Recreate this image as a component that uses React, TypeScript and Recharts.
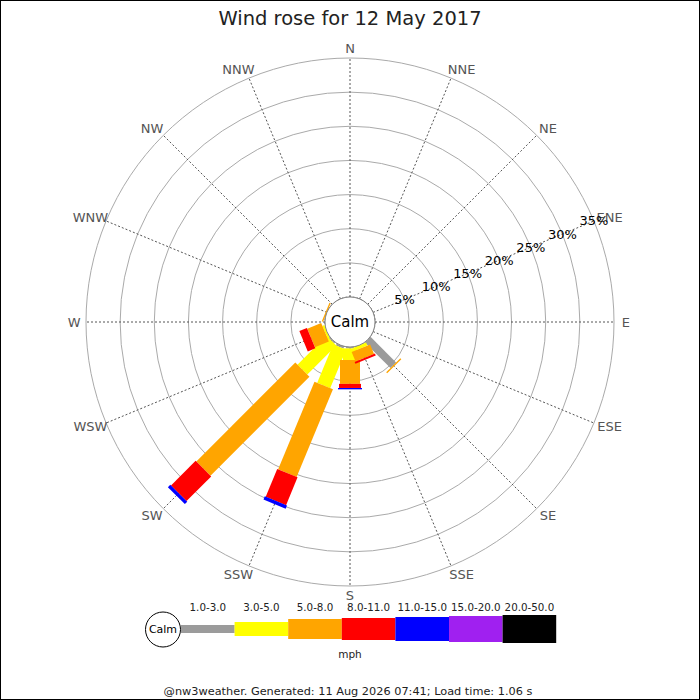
import React from 'react';
import { RadarChart, Radar, PolarGrid, PolarAngleAxis, PolarRadiusAxis } from 'recharts';

const DIRECTIONS = ['N', 'NNE', 'NE', 'ENE', 'E', 'ESE', 'SE', 'SSE', 'S', 'SSW', 'SW', 'WSW', 'W', 'WNW', 'NW', 'NNW'];
const SPEED_CLASSES = ['1.0-3.0', '3.0-5.0', '5.0-8.0', '8.0-11.0', '11.0-15.0', '15.0-20.0', '20.0-50.0'];
const CLASS_KEYS = ['c1', 'c2', 'c3', 'c4', 'c5', 'c6', 'c7'];
const CLASS_COLORS = ['#9b9b9b', '#ffff00', '#ffa500', '#ff0000', '#0000ff', '#a020f0', '#000000'];
const CLASS_WIDTHS = [8, 14, 20, 22, 24, 26, 28];

// Percent of time per direction (N .. NNW) for each speed class (mph)
const PCT_1_3 = [0, 0, 0, 0, 0, 0, 5.3, 0, 0.2, 0.3, 0.2, 0, 0, 0, 0, 0];
const PCT_3_5 = [0, 0, 0, 0, 0, 0, 0, 0.5, 1.7, 6.1, 6.0, 0.3, 0, 0, 0, 0];
const PCT_5_8 = [0, 0, 0, 0, 0, 0, 0.2, 1.5, 3.5, 13.9, 20.5, 2.2, 0, 0.2, 0, 0];
const PCT_8_11 = [0, 0, 0, 0, 0, 0, 0, 0.3, 0.6, 4.4, 5.1, 1.2, 0, 0, 0, 0];
const PCT_11_15 = [0, 0, 0, 0, 0, 0, 0, 0, 0.2, 0.5, 0.5, 0, 0, 0, 0, 0];
const PCT_15_20 = [0, 0, 0, 0, 0, 0, 0, 0, 0, 0, 0, 0, 0, 0, 0, 0];
const PCT_20_50 = [0, 0, 0, 0, 0, 0, 0, 0, 0, 0, 0, 0, 0, 0, 0, 0];
const SERIES = [PCT_1_3, PCT_3_5, PCT_5_8, PCT_8_11, PCT_11_15, PCT_15_20, PCT_20_50];

const RADIUS_TICKS = [0, 5, 10, 15, 20, 25, 30, 35];
const TITLE = 'Wind rose for 12 May 2017';
const UNIT = 'mph';
const CALM = 'Calm';
const FOOTER = '@nw3weather. Generated: 11 Aug 2026 07:41; Load time: 1.06 s';

const FONT = 'DejaVu Sans';
const CX = 350;
const CY = 322;
const INNER_R = 25;
const OUTER_R = 264;

// build range table [lower, upper] per class
const data = DIRECTIONS.map((dir, i) => {
  const row: any = { dir };
  let acc = 0;
  SERIES.forEach((s, k) => {
    const lo = acc;
    acc += s[i];
    row[CLASS_KEYS[k]] = [lo, acc];
  });
  return row;
});

const makeShape = (k: number) => (props: any) => {
  const pts: any[] = props.points || [];
  const w = CLASS_WIDTHS[k];
  return (
    <g>
      {pts.map((p: any, i: number) => {
        const v = p.value;
        if (!Array.isArray(v) || !(v[1] - v[0] > 0)) return null;
        const r1 = p.radius;
        const kScale = (r1 - INNER_R) / v[1];
        const r0 = INNER_R + kScale * v[0];
        const a = (p.angle * Math.PI) / 180;
        const ux = Math.cos(a);
        const uy = -Math.sin(a);
        const nx = Math.sin(a);
        const ny = Math.cos(a);
        const h = w / 2;
        const c = [
          [p.cx + ux * r0 + nx * h, p.cy + uy * r0 + ny * h],
          [p.cx + ux * r1 + nx * h, p.cy + uy * r1 + ny * h],
          [p.cx + ux * r1 - nx * h, p.cy + uy * r1 - ny * h],
          [p.cx + ux * r0 - nx * h, p.cy + uy * r0 - ny * h],
        ];
        return (
          <polygon
            key={i}
            points={c.map((q) => `${q[0]},${q[1]}`).join(' ')}
            fill={CLASS_COLORS[k]}
            stroke="none"
          />
        );
      })}
    </g>
  );
};

const AngleTick = (props: any) => {
  const { x, y, payload } = props;
  const label = String(payload.value);
  const a = (payload.coordinate * Math.PI) / 180;
  const w = label.length * 9.2;
  const cs = Math.cos(a);
  const shift = Math.abs(cs) > 1e-6 ? Math.sign(cs) * (w / 4) : 0;
  return (
    <text
      x={x + shift}
      y={y}
      textAnchor="middle"
      dominantBaseline="central"
      fill="#555"
      fontSize={13}
      fontFamily={FONT}
    >
      {label}
    </text>
  );
};

const RadiusTick = (props: any) => {
  const { x, y, payload } = props;
  if (!payload || payload.value === 0) return null;
  return (
    <text x={x} y={y} textAnchor="middle" dominantBaseline="central" fill="#000" fontSize={13} fontFamily={FONT}>
      {`${payload.value}%`}
    </text>
  );
};

const LEG_X0 = 181;
const LEG_W = 53.6;
const LEG_CY = 629;

export default function App() {
  return (
    <div style={{ position: 'fixed', left: 0, top: 0, width: 700, height: 700, background: '#fff' }}>
      <div style={{ position: 'absolute', left: 0, top: 0 }}>
        <RadarChart
          width={700}
          height={700}
          data={data}
          cx={CX}
          cy={CY}
          innerRadius={INNER_R}
          outerRadius={OUTER_R}
          margin={{ top: 0, right: 0, bottom: 0, left: 0 }}
        >
          <PolarGrid gridType="circle" radialLines={false} stroke="#aaa" strokeWidth={1} />
          <PolarGrid gridType="circle" polarRadius={[INNER_R]} stroke="#555" strokeDasharray="2 2" strokeWidth={1} />
          <PolarAngleAxis dataKey="dir" tick={<AngleTick />} tickSize={9.5} axisLine={false} tickLine={false} />
          <PolarRadiusAxis
            angle={22.5}
            type="number"
            domain={[0, 35]}
            ticks={RADIUS_TICKS}
            allowDataOverflow
            axisLine={false}
            tickLine={false}
            tick={<RadiusTick />}
          />
          {CLASS_KEYS.map((key, k) => (
            <Radar
              key={key}
              dataKey={key}
              isAnimationActive={false}
              shape={makeShape(k)}
              dot={false}
              legendType="none"
            />
          ))}
        </RadarChart>
      </div>
      <svg
        width={700}
        height={700}
        style={{ position: 'absolute', left: 0, top: 0, pointerEvents: 'none' }}
        fontFamily={FONT}
      >
        <text x={350} y={25} textAnchor="middle" fontSize={19.5} fill="#222">
          {TITLE}
        </text>
        <circle cx={CX} cy={CY} r={INNER_R} fill="#fff" stroke="#888" strokeWidth={1} />
        <text x={CX} y={CY} textAnchor="middle" dominantBaseline="central" fontSize={15} fill="#000">
          {CALM}
        </text>
        <circle cx={163} cy={LEG_CY + 0.5} r={17.5} fill="#fff" stroke="#000" strokeWidth={1} />
        <text x={163} y={LEG_CY + 0.5} textAnchor="middle" dominantBaseline="central" fontSize={11} fill="#000">
          {CALM}
        </text>
        {SPEED_CLASSES.map((lab, k) => {
          const x = LEG_X0 + k * LEG_W;
          const h = CLASS_WIDTHS[k];
          return (
            <g key={lab}>
              <rect x={x} y={LEG_CY - h / 2} width={LEG_W} height={h} fill={CLASS_COLORS[k]} />
              <text x={x + LEG_W / 2} y={611} textAnchor="middle" fontSize={10.3} fill="#222">
                {lab}
              </text>
            </g>
          );
        })}
        <text x={350} y={658} textAnchor="middle" fontSize={10.5} fill="#222">
          {UNIT}
        </text>
        <text x={348} y={695} textAnchor="middle" fontSize={11.3} fill="#222">
          {FOOTER}
        </text>
        <rect x={0.5} y={0.5} width={699} height={699} fill="none" stroke="#000" strokeWidth={1} />
      </svg>
    </div>
  );
}
